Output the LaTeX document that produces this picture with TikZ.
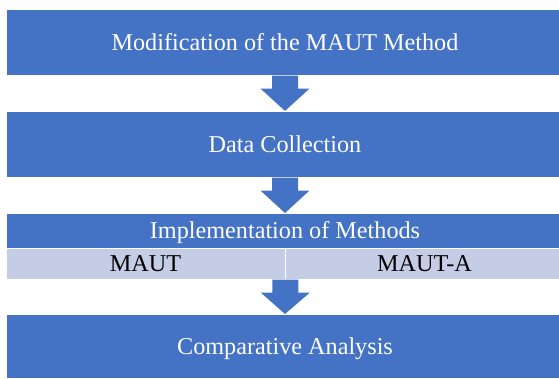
\documentclass[tikz,border=0pt]{standalone}
\usepackage{fontspec}
\setmainfont{Liberation Serif}
\usetikzlibrary{calc}
\definecolor{stepblue}{RGB}{68,114,196}
\definecolor{bandblue}{RGB}{197,204,230}
\newcommand{\blockarrow}[2]{%
    \fill[stepblue] ($(#1)+(-13,0)$)--($(#1)+(13,0)$)--($(#1)+(13,13)$)--($(#1)+(24.5,13)$)
        --(#2)--($(#1)+(-24.5,13)$)--($(#1)+(-13,13)$)--cycle;
}
\begin{document}
\begin{tikzpicture}[x=1pt,y=-1pt,
    stepbox/.style={fill=stepblue,draw=white,line width=0.6pt,inner sep=0pt,
        minimum width=558,minimum height=66,text=white,
        font=\fontsize{24.2}{29}\selectfont,text height=16pt,text depth=0pt},
    cell/.style={stepbox,fill=bandblue,text=black,minimum width=279,minimum height=31}]
\path[use as bounding box,clip] (0,0) rectangle (559,378);
\node[stepbox] (mod) at (285,42.3) {Modification of the MAUT Method};
\node[stepbox] (data) at (285,144.2) {Data Collection};
\node[stepbox,minimum height=35] (impl) at (285,230.8) {Implementation of Methods};
\node[cell] (maut) at (145.5,263.8) {MAUT};
\node[cell] (mauta) at (424.5,263.8) {MAUT-A};
\node[stepbox,minimum height=64] (comp) at (285,346.3) {Comparative Analysis};
\blockarrow{mod.south}{data.north}
\blockarrow{data.south}{impl.north}
\blockarrow{maut.south east}{comp.north}
\end{tikzpicture}
\end{document}
